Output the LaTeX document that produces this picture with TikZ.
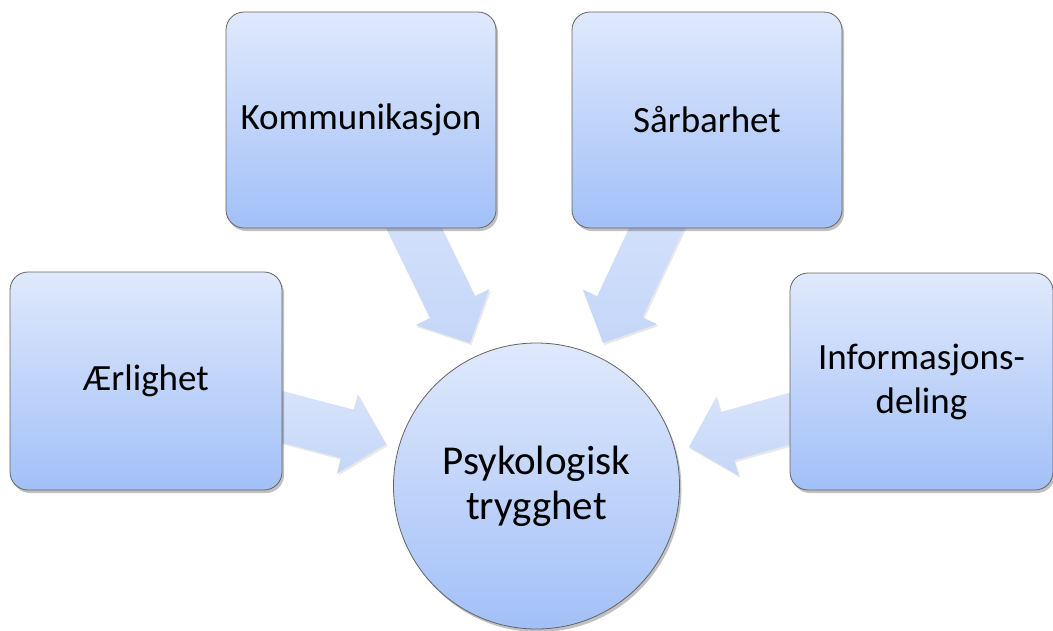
\documentclass[tikz,border=0pt]{standalone}
\usepackage{fontspec}
\setmainfont{Carlito}
\usetikzlibrary{calc,shadows,backgrounds}
\definecolor{boxtop}{RGB}{224,233,252}
\definecolor{boxbot}{RGB}{162,192,247}
\definecolor{arrtop}{RGB}{224,233,252}
\definecolor{arrbot}{RGB}{196,214,248}
\definecolor{boxline}{RGB}{100,100,100}
\newcommand\fatarrow[2]{%
  \coordinate (hb) at ($(#2)!40pt!(#1)$);
  \path[arrowbody] ($(#1)!25pt!90:(#2)$) -- ($(hb)!25pt!-90:(#1)$) -- ($(hb)!41pt!-90:(#1)$) -- (#2) -- ($(hb)!41pt!90:(#1)$) -- ($(hb)!25pt!90:(#1)$) -- ($(#1)!25pt!-90:(#2)$) -- cycle;}
\begin{document}
\begin{tikzpicture}[x=1pt,y=-1pt,
  shade/.style={top color=boxtop, bottom color=boxbot},
  box/.style={draw=boxline, line width=0.8pt, rounded corners=18pt, shade,
    align=center, inner sep=0pt, font=\fontsize{37}{44}\selectfont,
    drop shadow={opacity=0.35, shadow xshift=2pt, shadow yshift=-3pt, fill=black!70}},
  hub/.style={circle, draw=boxline, line width=0.8pt, shade, minimum size=286pt,
    align=center, inner sep=0pt, font=\fontsize{41}{45}\selectfont,
    drop shadow={opacity=0.35, shadow xshift=2pt, shadow yshift=-3pt, fill=black!70}},
  arrowbody/.style={top color=arrtop, bottom color=arrbot,
    drop shadow={opacity=0.15, shadow xshift=1.5pt, shadow yshift=-2pt, fill=black!60}}]
\useasboundingbox (0,0) rectangle (1053,630);
\node[box, minimum width=270pt, minimum height=216pt] (k) at (361,120) {Kommunikasjon};
\node[box, minimum width=270pt, minimum height=216pt] (s) at (707,120) {Sårbarhet};
\node[box, minimum width=272pt, minimum height=218pt] (ae) at (146,381) {Ærlighet};
\node[box, minimum width=263pt, minimum height=217pt] (inf) at (921.5,381.5) {Informasjons-\\deling};
\node[hub] (c) at (536.5,486) {Psykologisk\\trygghet};
\coordinate (tk) at (470,343);
\coordinate (ts) at (603,343);
\coordinate (tae) at (386,444);
\coordinate (tinf) at (689,447);
\begin{scope}[on background layer]
\fatarrow{k.center}{tk}
\fatarrow{s.center}{ts}
\fatarrow{ae.center}{tae}
\fatarrow{inf.center}{tinf}
\end{scope}
\end{tikzpicture}
\end{document}
